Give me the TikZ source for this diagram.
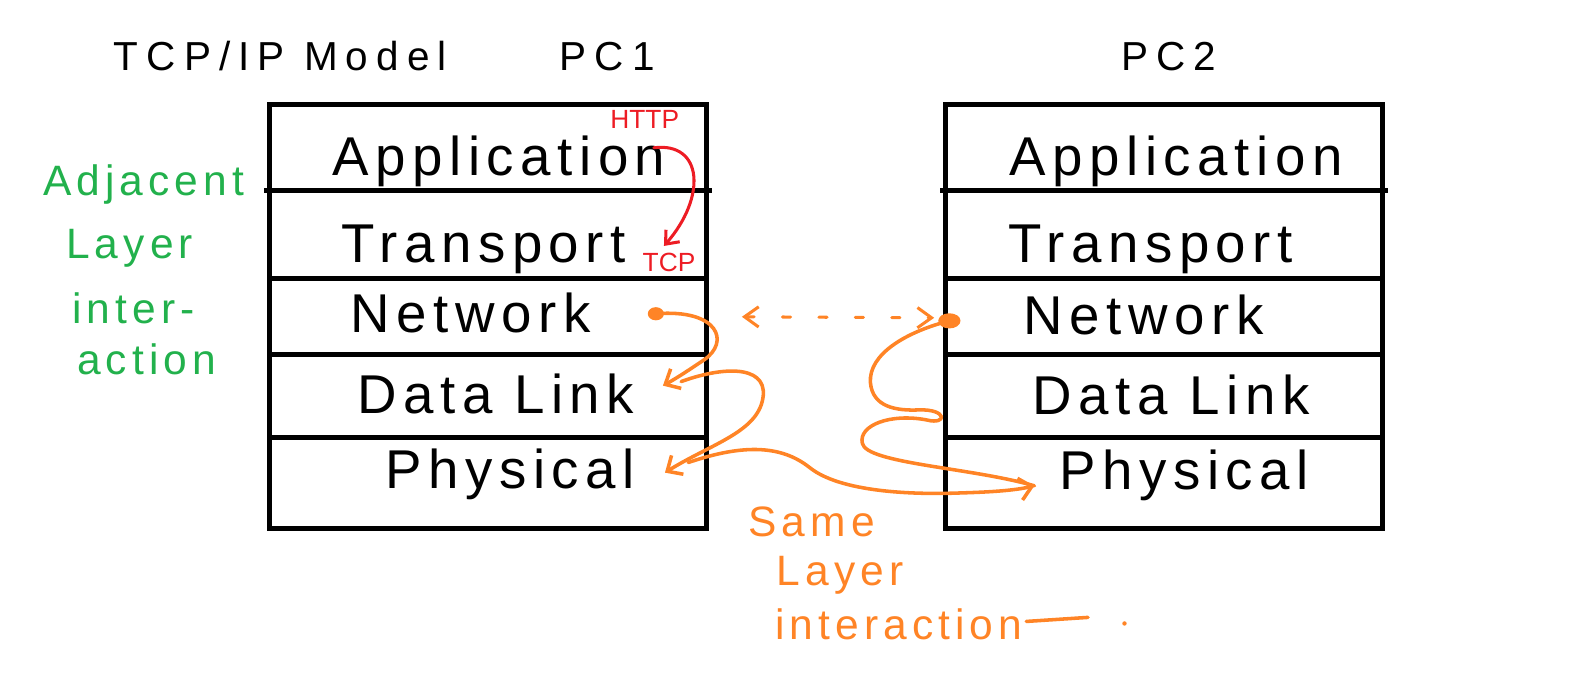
\documentclass[tikz,border=0pt]{standalone}
\usepackage{fontspec}
\setmainfont{Liberation Sans}
\newfontfamily\hand[LetterSpace=12]{Liberation Sans}
\newfontfamily\handw[LetterSpace=20]{Liberation Sans}
\usetikzlibrary{arrows.meta}
\definecolor{org}{RGB}{255,132,38}
\definecolor{grn}{RGB}{34,177,76}
\definecolor{rd}{RGB}{237,28,36}
\begin{document}
\begin{tikzpicture}[x=1pt,y=-1pt,
  cell/.style={draw=black,line width=5pt,minimum width=432pt,inner sep=0pt,outer sep=0pt},
  lay/.style={font=\hand\fontsize{54}{54}\selectfont,inner sep=0pt,anchor=base},
  ttl/.style={font=\handw\fontsize{40}{40}\selectfont,inner sep=0pt,anchor=base},
  gtxt/.style={text=grn,font=\hand\fontsize{42}{42}\selectfont,inner sep=0pt,anchor=base},
  otxt/.style={text=org,font=\hand\fontsize{42}{42}\selectfont,inner sep=0pt,anchor=base},
  rtxt/.style={text=rd,font=\fontsize{26}{26}\selectfont,inner sep=0pt,anchor=base},
  oline/.style={draw=org,line width=3.5pt,line cap=round,line join=round},
  otip/.style={-{Straight Barb[length=12pt,width=22pt]}},
  rline/.style={draw=rd,line width=3pt,line cap=round,-{Straight Barb[length=11pt,width=18pt]}}
]
\useasboundingbox (0,0) rectangle (1568,682);

% titles
\node[ttl] (ttl) at (277,70) {TCP/IP Model};
\node[ttl] (pc1) at (600,70) {PC1};
\node[ttl] (pc2) at (1155,70) {PC2};

% left stack
\node[cell,minimum height=85pt] (L1) at (482,145.5) {};
\node[cell,minimum height=87pt] (L2) at (482,231.5) {};
\node[cell,minimum height=75pt] (L3) at (482,312.5) {};
\node[cell,minimum height=82pt] (L4) at (482,391) {};
\node[cell,minimum height=90pt] (L5) at (482,477) {};
\draw[line width=5pt] ([xshift=-5pt]L1.south west) -- ([xshift=5pt]L1.south east);

% right stack
\node[cell,minimum height=85pt] (R1) at (1150,145.5) {};
\node[cell,minimum height=87pt] (R2) at (1150,231.5) {};
\node[cell,minimum height=75pt] (R3) at (1150,312.5) {};
\node[cell,minimum height=82pt] (R4) at (1150,391) {};
\node[cell,minimum height=90pt] (R5) at (1150,477) {};
\draw[line width=5pt] ([xshift=-5pt]R1.south west) -- ([xshift=5pt]R1.south east);

% layer names
\node[lay] (la) at (493,173) {Application};
\node[lay] (lt) at (478,259) {Transport};
\node[lay] (ln) at (465,329) {Network};
\node[lay] (ld) at (490,409) {Data Link};
\node[lay] (lp) at (504,483) {Physical};
\node[lay] (ra) at (1162,173) {Application};
\node[lay] (rt) at (1137,259) {Transport};
\node[lay] (rn) at (1130,330) {Network};
\node[lay] (rd) at (1157,410) {Data Link};
\node[lay] (rp) at (1170,484) {Physical};

% red protocol labels
\node[rtxt] (http) at (637,127) {HTTP};
\node[rtxt] (tcp) at (661,268) {TCP};
\coordinate (hs) at (646,146);
\coordinate (te) at (656,243);
\draw[rline] (hs) .. controls (695,140) and (698,195) .. (te);

% green label
\node[gtxt] (g1) at (142,193) {Adjacent};
\node[gtxt] (g2) at (128,255) {Layer};
\node[gtxt] (g3) at (132,320) {inter-};
\node[gtxt] (g4) at (145,370) {action};

% orange label
\node[otxt] (o1) at (802,530) {Same};
\node[otxt] (o2) at (830,578) {Layer};
\node[otxt] (o3) at (888,632) {interaction};
\draw[oline] (1014,614) -- (1075,610);
\fill[org] (1111,616) circle (2.2);

% orange paths
\coordinate (da) at (648,310);
\coordinate (a1) at (655,381);
\coordinate (b0) at (673,377);
\coordinate (b1) at (657,467);
\coordinate (c0) at (680,457);
\coordinate (c1) at (1022,480);
\coordinate (db) at (938,317);
\fill[org] (da) ellipse (8 and 6.5);
\fill[org] (db) ellipse (11 and 7.5);
\draw[oline,otip] (da) .. controls (710,305) and (722,338) .. (695,356) .. controls (680,366) and (668,374) .. (a1);
\draw[oline,otip] (b0) .. controls (720,360) and (762,362) .. (753,397) .. controls (745,428) and (700,440) .. (b1);
\draw[oline,otip] (c0) .. controls (730,440) and (770,438) .. (800,462) .. controls (830,486) and (900,489) .. (950,487) .. controls (985,486) and (1005,484) .. (c1);
\draw[oline] (db) .. controls (895,328) and (858,350) .. (860,378) .. controls (862,402) and (885,406) .. (908,405) .. controls (936,404) and (936,420) .. (916,415) .. controls (880,408) and (848,420) .. (852,438) .. controls (856,458) and (960,462) .. (c1);

% dashed same-layer arrow
\coordinate (dl) at (733,313);
\coordinate (dr) at (923,314);
\draw[draw=org,line width=3pt,line cap=round,dash pattern=on 8pt off 28pt,
  {Straight Barb[length=14pt,width=20pt]}-{Straight Barb[length=14pt,width=20pt]}] (dl) -- (dr);
\end{tikzpicture}
\end{document}
